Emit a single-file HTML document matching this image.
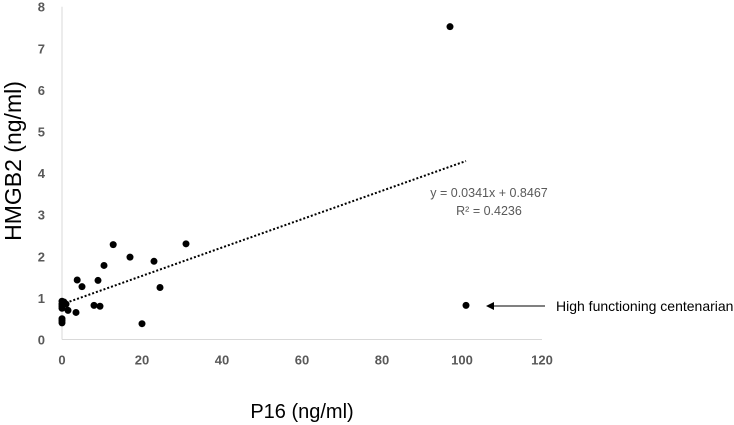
<!DOCTYPE html>
<html><head><meta charset="utf-8"><style>
body{margin:0;background:#fff;font-family:"Liberation Sans",sans-serif}
svg{display:block}
</style></head><body>
<svg id="c" width="734" height="425"></svg>
<script>
const xTicks=[0,20,40,60,80,100,120];
const yTicks=[0,1,2,3,4,5,6,7,8];
const xs=[0,0,0,0,0,0,0,0.5,1,1.5,3.5,3.8,5,8,9,9.5,10.5,12.8,17,20,23,24.5,31,97,101];
const ys=[0.92,0.85,0.8,0.75,0.5,0.45,0.4,0.9,0.85,0.7,0.65,1.43,1.27,0.82,1.42,0.8,1.78,2.28,1.98,0.38,1.88,1.25,2.3,7.52,0.82];
const slope=0.0341, intercept=0.8467;
const NS="http://www.w3.org/2000/svg",s=document.getElementById('c');
const X=v=>62+v*4.0, Y=v=>339.5-v*41.6;
function mk(t,a,p){const e=document.createElementNS(NS,t);for(const k in a)e.setAttribute(k,a[k]);(p||s).appendChild(e);return e;}
let e;
e=mk('line',{x1:62,y1:Y(0),x2:X(120),y2:Y(0),stroke:'#d9d9d9'});


e=mk('line',{x1:62,y1:Y(0),x2:62,y2:Y(8),stroke:'#d9d9d9'});


xTicks.forEach(t=>{e=mk('text',{x:X(t),y:Y(0)+25,'text-anchor':'middle','font-size':13,'font-weight':'bold',fill:'#595959'});e.textContent=t;

});
yTicks.forEach(t=>{e=mk('text',{x:45,y:Y(t)+5,'text-anchor':'end','font-size':13,'font-weight':'bold',fill:'#595959'});e.textContent=t;

});
e=mk('line',{x1:X(0),y1:Y(intercept),x2:X(101),y2:Y(intercept+slope*101),stroke:'#000','stroke-width':2,'stroke-dasharray':'2,2'});


xs.forEach((x,i)=>{e=mk('circle',{cx:X(x),cy:Y(ys[i]),r:3.5,fill:'#000'});

});
e=mk('text',{x:489,y:197,'text-anchor':'middle','font-size':12.5,fill:'#595959'});e.textContent='y = 0.0341x + 0.8467';


e=mk('text',{x:489,y:215,'text-anchor':'middle','font-size':12.5,fill:'#595959'});e.textContent='R² = 0.4236';


e=mk('line',{x1:545,y1:306,x2:490,y2:306,stroke:'#000','stroke-width':1});


e=mk('path',{d:'M486 306 L494 302 L494 310 Z',fill:'#000'});


e=mk('text',{x:556,y:311,'font-size':14,fill:'#000'});e.textContent='High functioning centenarian';


e=mk('text',{x:302,y:418,'text-anchor':'middle','font-size':20,fill:'#000'});e.textContent='P16 (ng/ml)';


e=mk('text',{x:21,y:161,'text-anchor':'middle','font-size':23,fill:'#000',transform:'rotate(-90 21 161)'});e.textContent='HMGB2 (ng/ml)';


</script>
</body></html>
